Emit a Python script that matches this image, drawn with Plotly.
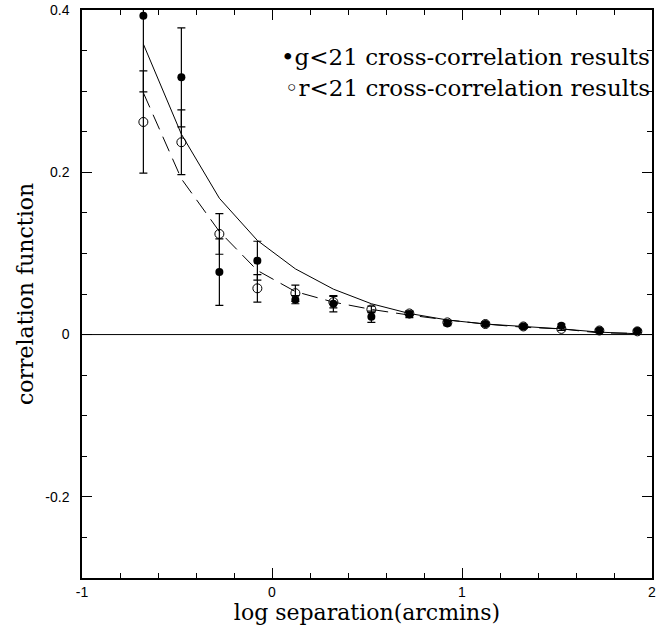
import plotly.graph_objects as go

# log separation (arcmins)
log_sep = [-0.677, -0.477, -0.277, -0.077, 0.123, 0.323, 0.523, 0.723,
           0.923, 1.123, 1.323, 1.523, 1.723, 1.923]

# g<21 cross-correlation results (filled)
g_vals = [0.393, 0.317, 0.077, 0.091, 0.043, 0.038, 0.022, 0.025,
          0.014, 0.013, 0.010, 0.011, 0.005, 0.0045]
g_errs = [0.094, 0.061, 0.041, 0.024, 0.005, 0.010, 0.007, 0.004,
          0.003, 0.002, 0.002, 0.002, 0.002, 0.002]

# r<21 cross-correlation results (open)
r_vals = [0.262, 0.237, 0.124, 0.057, 0.051, 0.040, 0.031, 0.026,
          0.015, 0.013, 0.010, 0.007, 0.005, 0.004]
r_errs = [0.063, 0.040, 0.025, 0.017, 0.010, 0.007, 0.004, 0.003,
          0.002, 0.002, 0.002, 0.002, 0.001, 0.001]

# model curves
model_solid = [0.358, 0.247, 0.168, 0.116, 0.081, 0.056, 0.038, 0.026,
               0.018, 0.013, 0.010, 0.007, 0.003, 0.001]
model_dashed = [0.298, 0.192, 0.127, 0.079, 0.053, 0.040, 0.031, 0.024,
                0.018, 0.013, 0.009, 0.007, 0.002, 0.0015]

x_ticks = [-1, 0, 1, 2]
x_ticklabels = ["-1", "0", "1", "2"]
y_ticks = [-0.2, 0, 0.2, 0.4]
y_ticklabels = ["-0.2", "0", "0.2", "0.4"]

legend_labels = ["g<21 cross-correlation results", "r<21 cross-correlation results"]
legend_y = [0.342, 0.304]

serif = "DejaVu Serif"
sans = "Liberation Sans, Arial, sans-serif"

fig = go.Figure()

# zero line
fig.add_trace(go.Scatter(x=[-1, 2], y=[0, 0], mode="lines",
                         line=dict(color="black", width=1), showlegend=False,
                         hoverinfo="skip"))

fig.add_trace(go.Scatter(x=log_sep, y=model_solid, mode="lines",
                         line=dict(color="black", width=1), showlegend=False))
fig.add_trace(go.Scatter(x=log_sep, y=model_dashed, mode="lines",
                         line=dict(color="black", width=1, dash="16px,8px"),
                         showlegend=False))

fig.add_trace(go.Scatter(x=log_sep, y=r_vals, mode="markers",
                         name=legend_labels[1],
                         marker=dict(symbol="circle-open", size=9, color="black",
                                     line=dict(width=1, color="black")),
                         error_y=dict(type="data", array=r_errs, color="black",
                                      thickness=1.2, width=4),
                         showlegend=False))
fig.add_trace(go.Scatter(x=log_sep, y=g_vals, mode="markers",
                         name=legend_labels[0],
                         marker=dict(symbol="circle", size=8, color="black"),
                         error_y=dict(type="data", array=g_errs, color="black",
                                      thickness=1.2, width=4),
                         showlegend=False))

# legend-style labels
bullets = ["•", "◦"]
for lab, yy, b in zip(legend_labels, legend_y, bullets):
    fig.add_annotation(x=1.0, y=yy, xref="paper", yref="y", xanchor="right",
                       yanchor="middle",
                       text=f"{b}{lab}",
                       showarrow=False, xshift=0,
                       font=dict(family=serif, size=23, color="black"))

axis_common = dict(showline=True, linecolor="black", linewidth=1.5, mirror="allticks",
                   ticks="inside", ticklen=10, tickwidth=1, tickcolor="black",
                   showgrid=False, zeroline=False, automargin=False,
                   ticklabeloverflow="allow",
                   tickfont=dict(family=sans, size=14, color="black"))

fig.update_xaxes(range=[-1, 2], tickvals=x_ticks, ticktext=x_ticklabels,
                 minor=dict(dtick=0.2, tick0=0, ticks="inside", ticklen=5,
                            tickcolor="black", tickwidth=1, showgrid=False),
                 title=dict(text="log separation(arcmins)",
                            font=dict(family=serif, size=22, color="black"),
                            standoff=4),
                 **axis_common)
fig.update_yaxes(range=[-0.3, 0.4], tickvals=y_ticks, ticktext=y_ticklabels,
                 minor=dict(dtick=0.05, tick0=0, ticks="inside", ticklen=5,
                            tickcolor="black", tickwidth=1, showgrid=False),
                 title=dict(text="correlation function",
                            font=dict(family=serif, size=22, color="black"),
                            standoff=6),
                 ticklabelstandoff=8,
                 **axis_common)

fig.update_layout(width=667, height=639,
                  margin=dict(l=82, r=15, t=10, b=61),
                  plot_bgcolor="white", paper_bgcolor="white",
                  showlegend=False)

fig.write_html("out.html")
